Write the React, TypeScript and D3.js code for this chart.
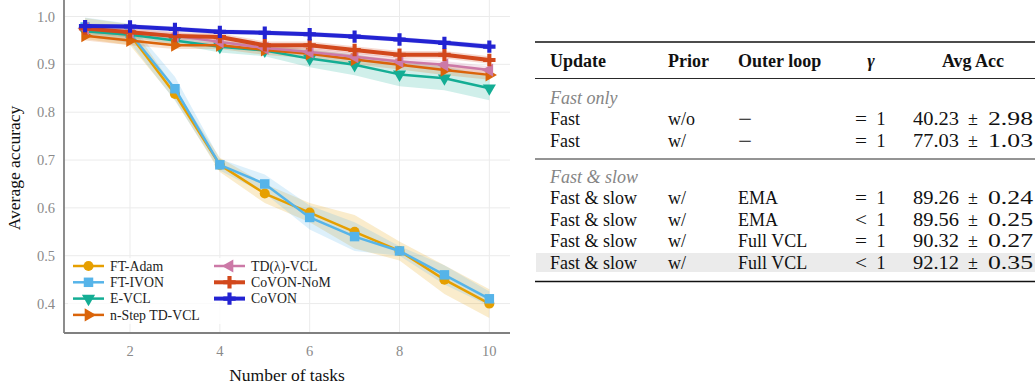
import * as d3 from "d3";
import React from "react";

// ---- chart data ----
const tasks = [1, 2, 3, 4, 5, 6, 7, 8, 9, 10];
const seriesNames = ["FT-Adam", "FT-IVON", "E-VCL", "n-Step TD-VCL", "TD(\u03bb)-VCL", "CoVON-NoM", "CoVON"];
const ftAdam = [0.975, 0.962, 0.838, 0.69, 0.63, 0.59, 0.55, 0.51, 0.45, 0.4];
const ftIvon = [0.978, 0.965, 0.849, 0.69, 0.65, 0.58, 0.54, 0.51, 0.46, 0.41];
const eVcl = [0.969, 0.962, 0.95, 0.937, 0.929, 0.912, 0.899, 0.879, 0.871, 0.85];
const nStep = [0.96, 0.95, 0.94, 0.94, 0.93, 0.922, 0.91, 0.899, 0.888, 0.878];
const tdLambda = [0.975, 0.968, 0.96, 0.947, 0.934, 0.926, 0.916, 0.906, 0.899, 0.888];
const covonNoM = [0.975, 0.967, 0.959, 0.957, 0.94, 0.94, 0.93, 0.92, 0.92, 0.909];
const covon = [0.98, 0.979, 0.974, 0.968, 0.966, 0.963, 0.958, 0.952, 0.945, 0.937];
// half-width of shaded bands
const ftAdamStd = [0.022, 0.022, 0.012, 0.015, 0.02, 0.02, 0.035, 0.02, 0.03, 0.03];
const ftIvonStd = [0.02, 0.02, 0.025, 0.012, 0.02, 0.025, 0.03, 0.01, 0.02, 0.015];
const eVclStd = [0.005, 0.006, 0.008, 0.012, 0.012, 0.018, 0.022, 0.025, 0.025, 0.025];
const nStepStd = [0.01, 0.01, 0.008, 0.008, 0.01, 0.01, 0.01, 0.01, 0.01, 0.01];
const tdLambdaStd = [0.008, 0.008, 0.008, 0.008, 0.008, 0.008, 0.008, 0.008, 0.008, 0.008];
const covonNoMStd = [0.008, 0.008, 0.008, 0.008, 0.008, 0.008, 0.008, 0.008, 0.008, 0.008];
const covonStd = [0.005, 0.005, 0.005, 0.005, 0.005, 0.005, 0.005, 0.005, 0.005, 0.006];
const yTicks = [0.4, 0.5, 0.6, 0.7, 0.8, 0.9, 1.0];
const xTicks = [2, 4, 6, 8, 10];

// ---- table data ----
const tableHeaders = ["Update", "Prior", "Outer loop", "\u03b3", "Avg Acc"];
const fastOnlyRows = [
    ["Fast", "w/o", "\u2212", "=", "40.23", "2.98"],
    ["Fast", "w/", "\u2212", "=", "77.03", "1.03"],
];
const fastSlowRows = [
    ["Fast & slow", "w/", "EMA", "=", "89.26", "0.24"],
    ["Fast & slow", "w/", "EMA", "<", "89.56", "0.25"],
    ["Fast & slow", "w/", "Full VCL", "=", "90.32", "0.27"],
    ["Fast & slow", "w/", "Full VCL", "<", "92.12", "0.35"],
];

const FONT = "'Liberation Serif', 'Times New Roman', serif";

const series = [
    { name: seriesNames[0], vals: ftAdam, std: ftAdamStd, color: "#E69F00", marker: "circle", lw: 2.5 },
    { name: seriesNames[1], vals: ftIvon, std: ftIvonStd, color: "#56B4E9", marker: "square", lw: 2.5 },
    { name: seriesNames[2], vals: eVcl, std: eVclStd, color: "#14AD94", marker: "down", lw: 2.5 },
    { name: seriesNames[3], vals: nStep, std: nStepStd, color: "#DA640A", marker: "right", lw: 2.5 },
    { name: seriesNames[4], vals: tdLambda, std: tdLambdaStd, color: "#CC79A7", marker: "left", lw: 2.5 },
    { name: seriesNames[5], vals: covonNoM, std: covonNoMStd, color: "#D2481C", marker: "plus", lw: 4 },
    { name: seriesNames[6], vals: covon, std: covonStd, color: "#2323D2", marker: "plus", lw: 4 },
];

const symbolPath = (m: string) => {
    if (m === "circle") return { d: d3.symbol(d3.symbolCircle, 80)()!, rot: 0 };
    if (m === "square") return { d: d3.symbol(d3.symbolSquare, 90)()!, rot: 0 };
    if (m === "plus") return { d: d3.symbol(d3.symbolCross, 85)()!, rot: 0 };
    const tri = d3.symbol(d3.symbolTriangle, 75)()!;
    return { d: tri, rot: m === "down" ? 180 : m === "right" ? 90 : -90 };
};

const Chart: React.FC = () => {
    const x = d3.scaleLinear().domain([0.53, 10.46]).range([64, 510]);
    const y = d3.scaleLinear().domain([0.3385, 1.0345]).range([333, 0]);
    const line = d3.line<number>().x((_, i) => x(tasks[i])).y(d => y(d));
    const area = (vals: number[], std: number[]) =>
        d3.area<number>().x((_, i) => x(tasks[i])).y0((d, i) => y(d - std[i])).y1((d, i) => y(d + std[i]))(vals)!;
    const legendCols = [[0, 1, 2, 3], [4, 5, 6]];
    const legendX = [73, 214];
    const legendY = (r: number) => 266 + r * 16.3;
    return (
        <g>
            {yTicks.map(t => (
                <line key={"gy" + t} x1={64} x2={510} y1={y(t)} y2={y(t)} stroke="#ebebeb" strokeWidth={1} />
            ))}
            {xTicks.map(t => (
                <line key={"gx" + t} x1={x(t)} x2={x(t)} y1={0} y2={333} stroke="#ebebeb" strokeWidth={1} />
            ))}
            {series.map(s => (
                <path key={"b" + s.name} d={area(s.vals, s.std)} fill={s.color} fillOpacity={0.2} />
            ))}
            {series.map(s => {
                const sym = symbolPath(s.marker);
                return (
                    <g key={"l" + s.name}>
                        <path d={line(s.vals)!} fill="none" stroke={s.color} strokeWidth={s.lw} strokeLinejoin="round" />
                        {s.vals.map((v, i) => (
                            <path key={i} d={sym.d} fill={s.color}
                                transform={`translate(${x(tasks[i])},${y(v)}) rotate(${sym.rot})`} />
                        ))}
                    </g>
                );
            })}
            {/* spines */}
            <line x1={64} x2={64} y1={0} y2={333} stroke="#808080" strokeWidth={1.8} />
            <line x1={64} x2={510} y1={333} y2={333} stroke="#808080" strokeWidth={1.8} />
            {yTicks.map(t => (
                <text key={"ty" + t} x={55} y={y(t)} dy="0.35em" textAnchor="end" fontSize={14.5} fill="#8a8a8a" fontFamily={FONT}>
                    {t.toFixed(1)}
                </text>
            ))}
            {xTicks.map(t => (
                <text key={"tx" + t} x={x(t)} y={356} textAnchor="middle" fontSize={14.5} fill="#8a8a8a" fontFamily={FONT}>
                    {t}
                </text>
            ))}
            <text x={287} y={381} textAnchor="middle" fontSize={17.5} fill="#111" fontFamily={FONT}>Number of tasks</text>
            <text transform="translate(20,168) rotate(-90)" textAnchor="middle" fontSize={17.5} fill="#111" fontFamily={FONT}>
                Average accuracy
            </text>
            {/* legend */}
            <rect x={68} y={258} width={222} height={66} fill="#fff" fillOpacity={0.8} />
            {legendCols.map((col, c) => col.map((si, r) => {
                const s = series[si];
                const sym = symbolPath(s.marker);
                const ly = legendY(r);
                const lx = legendX[c];
                return (
                    <g key={"lg" + si}>
                        <line x1={lx} x2={lx + 31} y1={ly} y2={ly} stroke={s.color} strokeWidth={s.lw} />
                        <path d={sym.d} fill={s.color} transform={`translate(${lx + 15.5},${ly}) rotate(${sym.rot})`} />
                        <text x={lx + 37} y={ly} dy="0.35em" fontSize={13.8} fill="#222" fontFamily={FONT}>{s.name}</text>
                    </g>
                );
            }))}
        </g>
    );
};

const Table: React.FC = () => {
    const left = 535, right = 1035;
    const txt = { fontSize: 18, fill: "#111", fontFamily: FONT };
    const cell = (row: string[], yb: number, key: string) => (
        <g key={key} {...txt}>
            <text x={550} y={yb}>{row[0]}</text>
            <text x={668} y={yb}>{row[1]}</text>
            {row[2] === "\u2212"
                ? <text x={738} y={yb} textLength={14} lengthAdjust="spacingAndGlyphs">{row[2]}</text>
                : <text x={738} y={yb}>{row[2]}</text>}
            <text x={861} y={yb} textAnchor="middle" textLength={12} lengthAdjust="spacingAndGlyphs">{row[3]}</text>
            <text x={881} y={yb} textAnchor="middle">1</text>
            <text x={913} y={yb} textLength={46} lengthAdjust="spacingAndGlyphs">{row[4]}</text>
            <text x={973} y={yb} textAnchor="middle">{"\u00b1"}</text>
            <text x={1033} y={yb} textAnchor="end" textLength={45} lengthAdjust="spacingAndGlyphs">{row[5]}</text>
        </g>
    );
    return (
        <g>
            <rect x={left + 1} y={253} width={right - left - 1} height={19} fill="#ebebeb" />
            <line x1={left} x2={right} y1={42} y2={42} stroke="#111" strokeWidth={1.5} />
            <line x1={left} x2={right} y1={78.5} y2={78.5} stroke="#111" strokeWidth={0.9} />
            <line x1={left} x2={right} y1={159} y2={159} stroke="#111" strokeWidth={0.9} />
            <line x1={left} x2={right} y1={281.5} y2={281.5} stroke="#111" strokeWidth={1.5} />
            <g fontSize={18} fontWeight="bold" fill="#111" fontFamily={FONT}>
                <text x={550} y={67}>{tableHeaders[0]}</text>
                <text x={668} y={67}>{tableHeaders[1]}</text>
                <text x={738} y={67}>{tableHeaders[2]}</text>
                <text x={871} y={67} textAnchor="middle" fontStyle="italic">{tableHeaders[3]}</text>
                <text x={973} y={67} textAnchor="middle">{tableHeaders[4]}</text>
            </g>
            <text x={550} y={103.5} fontSize={18} fontStyle="italic" fill="#858585" fontFamily={FONT}>Fast only</text>
            {fastOnlyRows.map((r, i) => cell(r, 125 + i * 21.5, "fo" + i))}
            <text x={550} y={182.5} fontSize={18} fontStyle="italic" fill="#858585" fontFamily={FONT}>Fast &amp; slow</text>
            {fastSlowRows.map((r, i) => cell(r, 204 + i * 21.5, "fs" + i))}
        </g>
    );
};

export default function App() {
    return (
        <svg width={1035} height={385} viewBox="0 0 1035 385"
            style={{ position: "absolute", left: 0, top: 0, background: "#fff" }}>
            <Chart />
            <Table />
        </svg>
    );
}
